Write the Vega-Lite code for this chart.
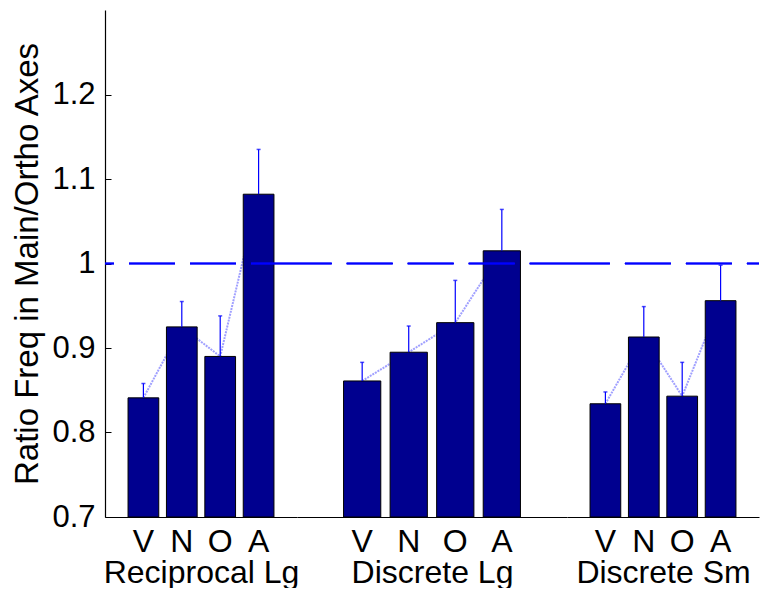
{
  "$schema": "https://vega.github.io/schema/vega-lite/v6.json",
  "padding": {"left": 11, "top": 10, "right": 0, "bottom": 0},
  "autosize": {"type": "pad"},
  "spacing": 0,
  "bounds": "flush",
  "config": {
    "font": "Liberation Sans",
    "view": {"stroke": null},
    "axis": {"labelColor": "#000", "titleColor": "#000", "domainColor": "#000", "tickColor": "#000", "grid": false, "labelFont": "Liberation Sans", "titleFont": "Liberation Sans", "titleFontWeight": "normal", "domainWidth": 1.2}
  },
  "datasets": {
    "bars": [
      {"group": "Reciprocal Lg", "cond": "V", "mean": 0.841, "hi": 0.858},
      {"group": "Reciprocal Lg", "cond": "N", "mean": 0.925, "hi": 0.955},
      {"group": "Reciprocal Lg", "cond": "O", "mean": 0.890, "hi": 0.938},
      {"group": "Reciprocal Lg", "cond": "A", "mean": 1.082, "hi": 1.135},
      {"group": "Discrete Lg", "cond": "V", "mean": 0.861, "hi": 0.883},
      {"group": "Discrete Lg", "cond": "N", "mean": 0.895, "hi": 0.926},
      {"group": "Discrete Lg", "cond": "O", "mean": 0.930, "hi": 0.980},
      {"group": "Discrete Lg", "cond": "A", "mean": 1.015, "hi": 1.064},
      {"group": "Discrete Sm", "cond": "V", "mean": 0.834, "hi": 0.848},
      {"group": "Discrete Sm", "cond": "N", "mean": 0.913, "hi": 0.949},
      {"group": "Discrete Sm", "cond": "O", "mean": 0.843, "hi": 0.883},
      {"group": "Discrete Sm", "cond": "A", "mean": 0.956, "hi": 0.998}
    ]
  },
  "hconcat": [
    {
      "width": 192, "height": 507,
      "data": {"name": "bars"},
      "transform": [{"filter": "datum.group === 'Reciprocal Lg'"}],
      "layer": [
        {
          "encoding": {
            "x": {"field": "cond", "type": "nominal", "scale": {"domain": ["V", "N", "O", "A"], "paddingInner": 0.2, "paddingOuter": 0.6}, "axis": {"title": "Reciprocal Lg", "labelAngle": 0, "labelFontSize": 32, "ticks": false, "labelPadding": 9, "titleFontSize": 32, "titlePadding": 0}},
            "y": {"field": "mean", "type": "quantitative", "scale": {"domain": [0.7, 1.3], "nice": false, "zero": false}, "axis": {"title": "Ratio Freq in Main/Ortho Axes", "values": [0.7, 0.8, 0.9, 1, 1.1, 1.2], "format": ".1~f", "labelFontSize": 31, "titleFontSize": 33, "tickSize": -6, "labelPadding": 16, "titlePadding": 7}}
          },
          "layer": [
            {"mark": {"type": "line", "color": "#a0a0ff", "strokeWidth": 2, "strokeDash": [2, 1]}},
            {"mark": {"type": "bar", "color": "#00008F", "stroke": "#000", "strokeWidth": 1}, "encoding": {"y2": {"datum": 0.7}}},
            {"mark": {"type": "rule", "color": "#0000FF", "strokeWidth": 1.2}, "encoding": {"y2": {"field": "hi"}}},
            {"mark": {"type": "tick", "color": "#0000FF", "orient": "horizontal", "size": 4, "thickness": 1.5}, "encoding": {"y": {"field": "hi", "type": "quantitative", "title": "Ratio Freq in Main/Ortho Axes"}}}
          ]
        },
        {"mark": {"type": "rule", "color": "#0000FF", "strokeWidth": 1.5, "strokeDash": [46, 15]}, "encoding": {"y": {"datum": 1, "type": "quantitative", "title": "Ratio Freq in Main/Ortho Axes"}}}
      ]
    },
    {
      "width": 270, "height": 507,
      "data": {"name": "bars"},
      "transform": [{"filter": "datum.group === 'Discrete Lg'"}],
      "layer": [
        {
          "encoding": {
            "x": {"field": "cond", "type": "nominal", "scale": {"domain": ["V", "N", "O", "A"], "paddingInner": 0.2, "paddingOuter": 1.6}, "axis": {"title": "Discrete Lg", "labelAngle": 0, "labelFontSize": 32, "ticks": false, "labelPadding": 9, "titleFontSize": 32, "titlePadding": 0}},
            "y": {"field": "mean", "type": "quantitative", "scale": {"domain": [0.7, 1.3], "nice": false, "zero": false}, "axis": null}
          },
          "layer": [
            {"mark": {"type": "line", "color": "#a0a0ff", "strokeWidth": 2, "strokeDash": [2, 1]}},
            {"mark": {"type": "bar", "color": "#00008F", "stroke": "#000", "strokeWidth": 1}, "encoding": {"y2": {"datum": 0.7}}},
            {"mark": {"type": "rule", "color": "#0000FF", "strokeWidth": 1.2}, "encoding": {"y2": {"field": "hi"}}},
            {"mark": {"type": "tick", "color": "#0000FF", "orient": "horizontal", "size": 4, "thickness": 1.5}, "encoding": {"y": {"field": "hi", "type": "quantitative", "axis": null}}}
          ]
        },
        {"mark": {"type": "rule", "color": "#0000FF", "strokeWidth": 1.5, "strokeDash": [46, 15], "strokeDashOffset": 8.7}, "encoding": {"y": {"datum": 1, "type": "quantitative", "axis": null}}}
      ]
    },
    {
      "width": 192, "height": 507,
      "data": {"name": "bars"},
      "transform": [{"filter": "datum.group === 'Discrete Sm'"}],
      "layer": [
        {
          "encoding": {
            "x": {"field": "cond", "type": "nominal", "scale": {"domain": ["V", "N", "O", "A"], "paddingInner": 0.2, "paddingOuter": 0.6}, "axis": {"title": "Discrete Sm", "labelAngle": 0, "labelFontSize": 32, "ticks": false, "labelPadding": 9, "titleFontSize": 32, "titlePadding": 0}},
            "y": {"field": "mean", "type": "quantitative", "scale": {"domain": [0.7, 1.3], "nice": false, "zero": false}, "axis": null}
          },
          "layer": [
            {"mark": {"type": "line", "color": "#a0a0ff", "strokeWidth": 2, "strokeDash": [2, 1]}},
            {"mark": {"type": "bar", "color": "#00008F", "stroke": "#000", "strokeWidth": 1}, "encoding": {"y2": {"datum": 0.7}}},
            {"mark": {"type": "rule", "color": "#0000FF", "strokeWidth": 1.2}, "encoding": {"y2": {"field": "hi"}}},
            {"mark": {"type": "tick", "color": "#0000FF", "orient": "horizontal", "size": 4, "thickness": 1.5}, "encoding": {"y": {"field": "hi", "type": "quantitative", "axis": null}}}
          ]
        },
        {"mark": {"type": "rule", "color": "#0000FF", "strokeWidth": 1.5, "strokeDash": [46, 15], "strokeDashOffset": 33.9}, "encoding": {"y": {"datum": 1, "type": "quantitative", "axis": null}}}
      ]
    }
  ]
}
